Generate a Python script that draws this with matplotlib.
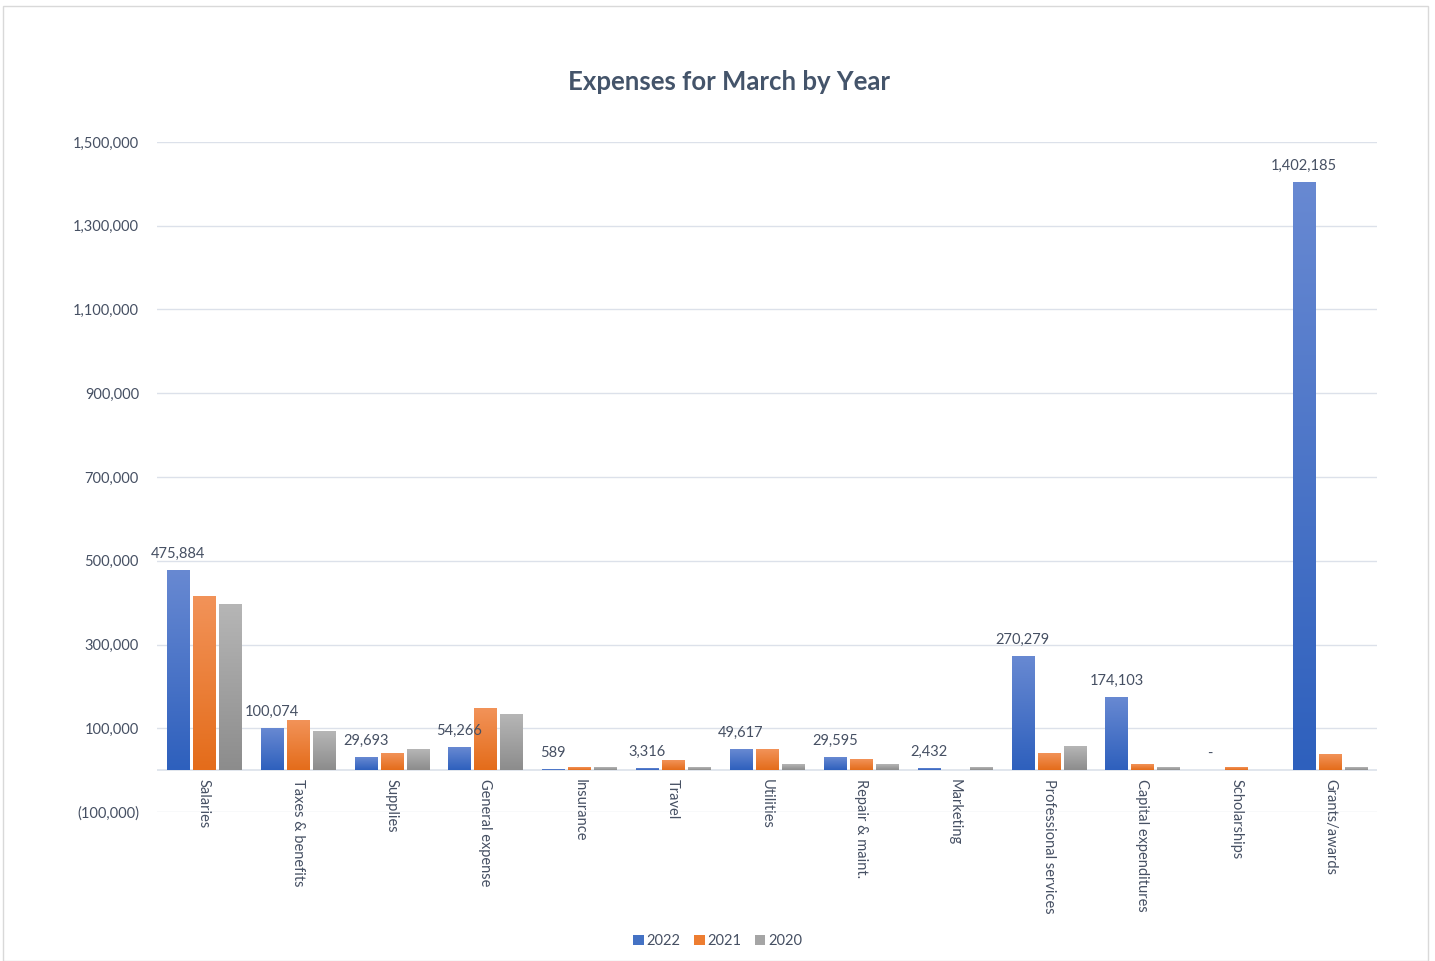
import numpy as np
import matplotlib
matplotlib.use("Agg")
import matplotlib.pyplot as plt
from matplotlib.colors import LinearSegmentedColormap
from matplotlib.patches import Rectangle, Patch
from matplotlib.ticker import FixedLocator, FuncFormatter

plt.rcParams["font.family"] = ["Lato", "DejaVu Sans"]

categories = ["Salaries", "Taxes & benefits", "Supplies", "General expense", "Insurance",
              "Travel", "Utilities", "Repair & maint.", "Marketing", "Professional services",
              "Capital expenditures", "Scholarships", "Grants/awards"]
years = ["2022", "2021", "2020"]
values_2022 = [475884, 100074, 29693, 54266, 589, 3316, 49617, 29595, 2432, 270279, 174103, 0, 1402185]
values_2021 = [415000, 119000, 40500, 148000, 5000, 21500, 47800, 26000, 0, 40500, 14300, 5000, 38000]
values_2020 = [396000, 93000, 47800, 133500, 5000, 5000, 12000, 12000, 5000, 57300, 4800, 0, 5000]
yticks = [-100000, 100000, 300000, 500000, 700000, 900000, 1100000, 1300000, 1500000]

# gradient colours per series: (bottom, top)
grad_colors = [("#2E60BD", "#6889D2"), ("#E46C1A", "#F29359"), ("#8C8C8C", "#B6B6B6")]
solid_colors = ["#4472C4", "#ED7D31", "#A5A5A5"]
text_color = "#465063"
grid_color = "#DCE1EA"

fig = plt.figure(figsize=(14.35, 9.61), dpi=100)
fig.patches.append(Rectangle((3 / 1435, 0), 1425 / 1435, 1 - 6 / 961, transform=fig.transFigure,
                             fill=False, edgecolor="#D9D9D9", linewidth=1))
ax = fig.add_axes([157 / 1435, 1 - 812 / 961, 1220 / 1435, 670 / 961])

x = np.arange(len(categories))
width = 0.235
step = 0.277
series = [values_2022, values_2021, values_2020]
gradient = np.linspace(0, 1, 256).reshape(-1, 1)
bar_groups = []
for i, vals in enumerate(series):
    bars = ax.bar(x + (i - 1) * step, vals, width, color="none", edgecolor="none", zorder=3)
    bar_groups.append(bars)
    cmap = LinearSegmentedColormap.from_list(f"g{i}", list(grad_colors[i]))
    for rect in bars:
        h = rect.get_height()
        if h <= 0:
            continue
        x0 = rect.get_x()
        ax.imshow(gradient, extent=[x0, x0 + rect.get_width(), 0, h], origin="lower",
                  aspect="auto", cmap=cmap, zorder=3, interpolation="bicubic")

labels = ["-" if v == 0 else f"{v:,.0f}" for v in values_2022]
ax.bar_label(bar_groups[0], labels=labels, padding=7, fontsize=10.5, color=text_color)

ax.set_xlim(-0.5, len(categories) - 0.5)
ax.set_ylim(-100000, 1500000)
ax.yaxis.set_major_locator(FixedLocator(yticks))
ax.yaxis.set_major_formatter(FuncFormatter(lambda v, p: f"({abs(v):,.0f})" if v < 0 else f"{v:,.0f}"))
ax.grid(axis="y", color=grid_color, linewidth=1, zorder=0)
ax.axhline(0, color=grid_color, linewidth=1.2, zorder=2)
ax.set_axisbelow(True)
for s in ax.spines.values():
    s.set_visible(False)
ax.tick_params(axis="y", length=0, pad=13, labelsize=10.5, labelcolor=text_color)
ax.set_xticks(x)
ax.set_xticklabels(categories, rotation=-90, va="top", ha="center")
ax.tick_params(axis="x", length=0, labelsize=10.5, labelcolor=text_color)
# category labels hang just below the zero line
offset = ax.transData.transform((0, 0))[1] - ax.transData.transform((0, -100000))[1]
for lbl in ax.get_xticklabels():
    lbl.set_transform(lbl.get_transform() + matplotlib.transforms.ScaledTranslation(0, (offset - 4) / 100, fig.dpi_scale_trans))

fig.text(729 / 1435, 1 - 82 / 961, "Expenses for March by Year", ha="center", va="center",
         fontsize=18.5, fontweight="bold", color="#44546A")

handles = [Patch(facecolor=c, edgecolor="none") for c in solid_colors]
fig.legend(handles, years, loc="center", bbox_to_anchor=(0.5, 1 - 941 / 961), ncol=3, frameon=False,
           fontsize=10.5, labelcolor=text_color, handlelength=0.75, handleheight=0.75,
           handletextpad=0.2, columnspacing=0.9)

fig.savefig("out.png", dpi=100)
